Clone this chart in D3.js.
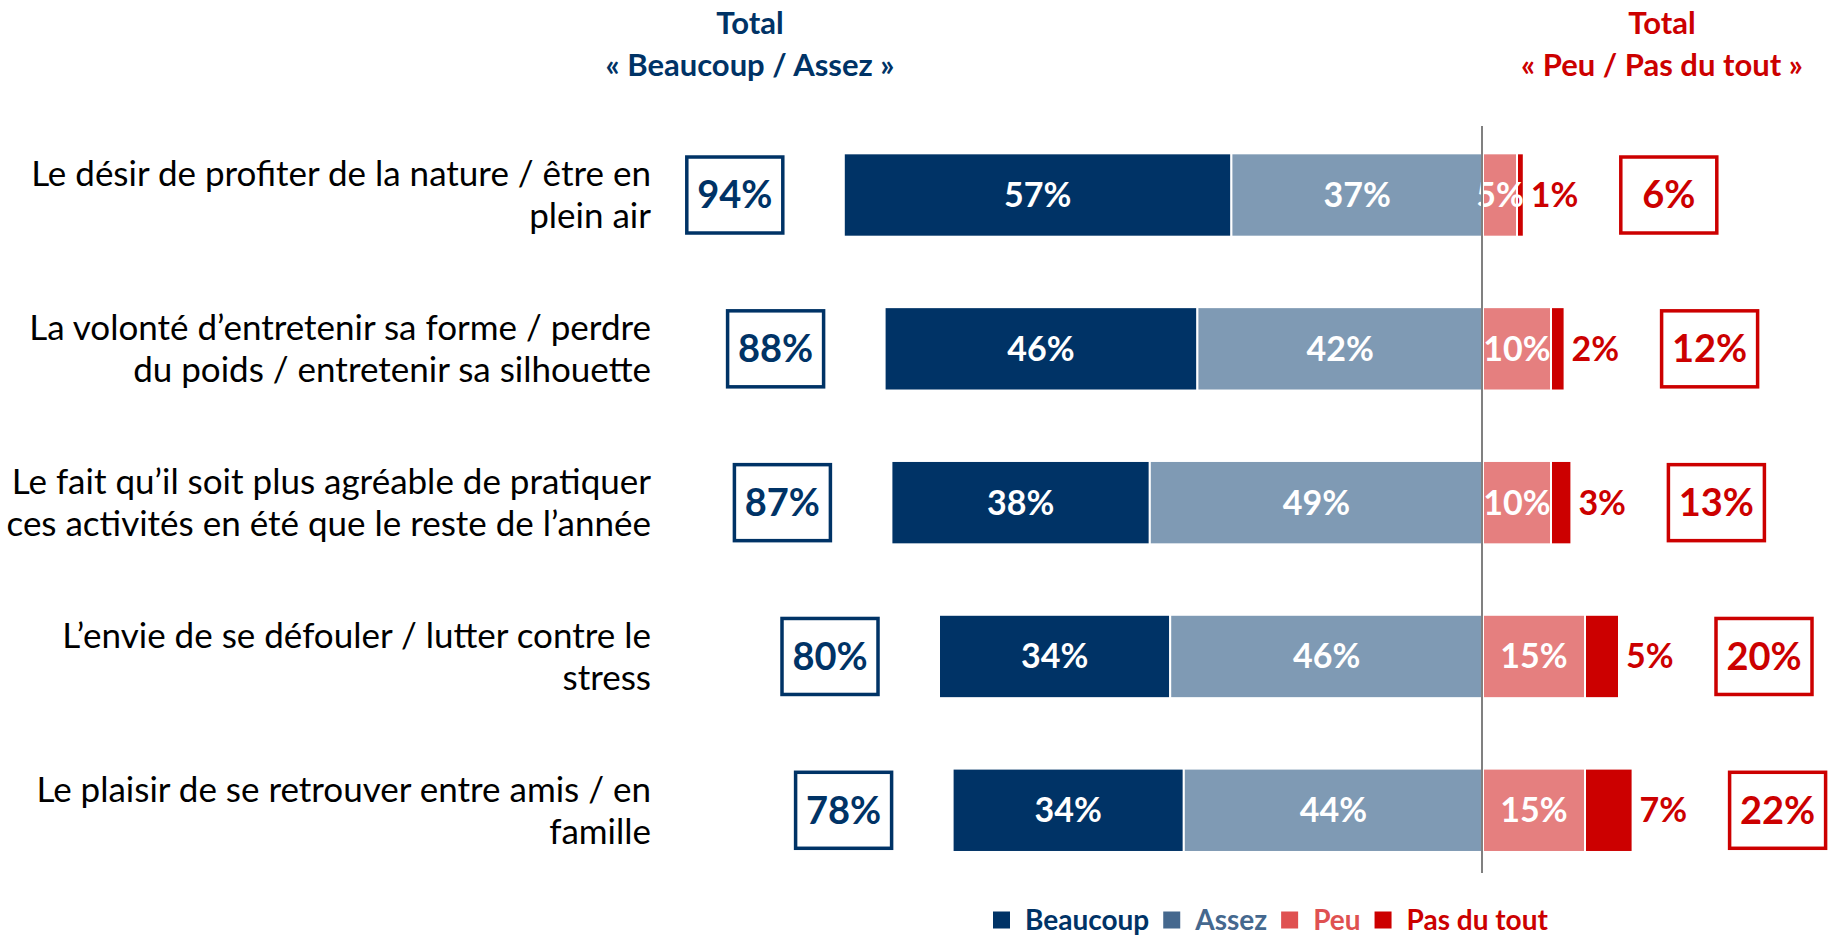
<!DOCTYPE html>
<html>
<head>
<meta charset="utf-8">
<script src="https://cdn.jsdelivr.net/npm/d3@7"></script>
<style>
  html, body { margin: 0; padding: 0; background: #fff; }
  svg { display: block; font-family: Lato, "Noto Sans", sans-serif; }
</style>
</head>
<body>
<div id="chart"></div>
<script>
// données
var categories = [
  "Le désir de profiter de la nature / être en\nplein air",
  "La volonté d’entretenir sa forme / perdre\ndu poids / entretenir sa silhouette",
  "Le fait qu’il soit plus agréable de pratiquer\nces activités en été que le reste de l’année",
  "L’envie de se défouler / lutter contre le\nstress",
  "Le plaisir de se retrouver entre amis / en\nfamille"
];
var beaucoup = [57, 46, 38, 34, 34];
var assez = [37, 42, 49, 46, 44];
var peu = [5, 10, 10, 15, 15];
var pasDuTout = [1, 2, 3, 5, 7];
var totalPositif = [94, 88, 87, 80, 78];
var totalNegatif = [6, 12, 13, 20, 22];
var legendLabels = ["Beaucoup", "Assez", "Peu", "Pas du tout"];

var W = 1837, H = 938;
var colors = {
  navy: '#003366',
  assez: '#7f9ab4',
  peu: '#e57f7f',
  pas: '#cc0000',
  red: '#cc0000',
  line: '#808080',
  legend: ['#003366', '#45688e', '#df5151', '#cc0000']
};

var svg = d3.select('#chart').append('svg')
  .attr('width', W)
  .attr('height', H);

var x = d3.scaleLinear().domain([-100, 100]).range([1483 - 680, 1483 + 680]);
var y = d3.scaleBand().domain(d3.range(categories.length))
  .range([118.1, 887.2])
  .paddingInner(0.458)
  .paddingOuter(0.229);
var bh = y.bandwidth();

// en-têtes
var heads = [
  {cx: 750, color: colors.navy, lines: ['Total', '«\u00a0Beaucoup / Assez\u00a0»']},
  {cx: 1662, color: colors.red, lines: ['Total', '«\u00a0Peu / Pas du tout\u00a0»']}
];
heads.forEach(function (h) {
  h.lines.forEach(function (t, i) {
    svg.append('text')
      .attr('x', h.cx)
      .attr('y', 23 + i * 42)
      .attr('dy', '0.35em')
      .attr('text-anchor', 'middle')
      .attr('font-size', 31)
      .attr('font-weight', 'bold')
      .attr('fill', h.color)
      .text(t);
  });
});

// libellés des catégories
categories.forEach(function (c, i) {
  var lines = c.split('\n');
  var cy = y(i) + bh / 2;
  lines.forEach(function (t, j) {
    svg.append('text')
      .attr('x', 651)
      .attr('y', cy + (j - (lines.length - 1) / 2) * 42)
      .attr('dy', '0.35em')
      .attr('text-anchor', 'end')
      .attr('font-size', 35)
      .attr('fill', '#000')
      .text(t);
  });
});

// barres
var segs = [];
categories.forEach(function (c, i) {
  segs.push({i: i, x0: -(beaucoup[i] + assez[i]), x1: -assez[i], v: beaucoup[i], fill: colors.navy, lab: 'in'});
  segs.push({i: i, x0: -assez[i], x1: 0, v: assez[i], fill: colors.assez, lab: 'in'});
  segs.push({i: i, x0: 0, x1: peu[i], v: peu[i], fill: colors.peu, lab: 'in'});
  segs.push({i: i, x0: peu[i], x1: peu[i] + pasDuTout[i], v: pasDuTout[i], fill: colors.pas, lab: 'out'});
});

svg.append('g').selectAll('rect')
  .data(segs)
  .join('rect')
  .attr('x', function (d) { return x(d.x0); })
  .attr('y', function (d) { return y(d.i); })
  .attr('width', function (d) { return x(d.x1) - x(d.x0); })
  .attr('height', bh)
  .attr('fill', function (d) { return d.fill; })
  .attr('stroke', '#fff')
  .attr('stroke-width', 2);

svg.append('g').selectAll('text')
  .data(segs)
  .join('text')
  .attr('x', function (d) {
    return d.lab == 'in' ? (x(d.x0) + x(d.x1)) / 2 : x(d.x1) + 7;
  })
  .attr('y', function (d) { return y(d.i) + bh / 2; })
  .attr('dy', '0.35em')
  .attr('text-anchor', function (d) { return d.lab == 'in' ? 'middle' : 'start'; })
  .attr('font-size', 34)
  .attr('font-weight', 'bold')
  .attr('fill', function (d) { return d.lab == 'in' ? '#fff' : colors.red; })
  .text(function (d) { return d.v + '%'; });

// ligne zéro
svg.append('line')
  .attr('x1', x(0) - 1).attr('x2', x(0) - 1)
  .attr('y1', 126).attr('y2', 873)
  .attr('stroke', colors.line)
  .attr('stroke-width', 2);

// totaux encadrés
var boxW = 96, boxH = 76;
function totalBox(cx, cy, v, color) {
  svg.append('rect')
    .attr('x', cx - boxW / 2)
    .attr('y', cy - boxH / 2)
    .attr('width', boxW)
    .attr('height', boxH)
    .attr('fill', '#fff')
    .attr('stroke', color)
    .attr('stroke-width', 3.5);
  svg.append('text')
    .attr('x', cx)
    .attr('y', cy)
    .attr('dy', '0.35em')
    .attr('text-anchor', 'middle')
    .attr('font-size', 38)
    .attr('font-weight', 'bold')
    .attr('fill', color)
    .text(v + '%');
}
categories.forEach(function (c, i) {
  var cy = y(i) + bh / 2;
  totalBox(x(-totalPositif[i]) - 109, cy, totalPositif[i], colors.navy);
  totalBox(x(totalNegatif[i]) + 145, cy, totalNegatif[i], colors.red);
});

// légende
var lg = svg.append('g');
var lx = 993;
legendLabels.forEach(function (t, i) {
  lg.append('rect')
    .attr('x', lx)
    .attr('y', 920 - 8.5)
    .attr('width', 17)
    .attr('height', 17)
    .attr('fill', colors.legend[i]);
  var tx = lg.append('text')
    .attr('x', lx + 32)
    .attr('y', 920)
    .attr('dy', '0.35em')
    .attr('font-size', 28)
    .attr('font-weight', 'bold')
    .attr('fill', colors.legend[i])
    .text(t);
  lx += 32 + tx.node().getComputedTextLength() + 14;
});
</script>
</body>
</html>
